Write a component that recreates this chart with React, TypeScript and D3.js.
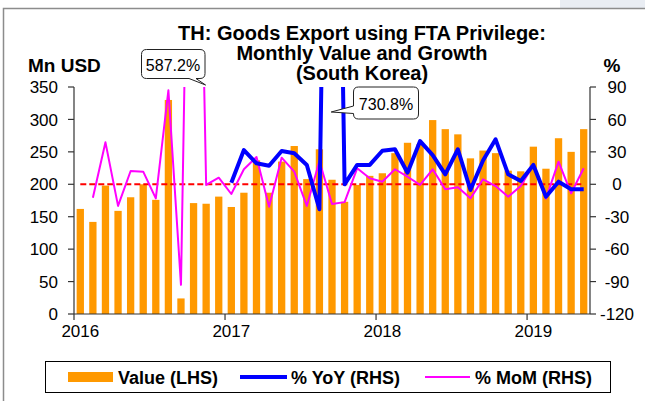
import React from "react";
import * as d3 from "d3";

const months: string[] = [];
for (let y = 2016; y <= 2019; y++) {
  for (let m = 1; m <= 12; m++) {
    if (y === 2019 && m > 5) break;
    months.push(`${y}-${String(m).padStart(2, "0")}`);
  }
}

const valueLHS: number[] = [
  162, 142, 198, 159, 180, 200, 176, 330, 24, 171, 170, 181,
  165, 187, 237, 187, 235, 259, 208, 254, 207, 173, 199, 213,
  217, 248, 264, 262, 299, 285, 277, 240, 252, 248, 221, 220,
  258, 224, 271, 250, 285,
];

const yoyRHS: (number | null)[] = [
  null, null, null, null, null, null, null, null, null, null, null, null,
  1.5, 31.7, 19.4, 17.2, 30.8, 28.7, 17.9, -23.1, 730.8, 0, 17.9, 17.9,
  31, 32.4, 10.7, 40, 27, 9.2, 32.4, -5.3, 22, 41.6, 9.2, 3,
  17.9, -11.5, 2.4, -4.6, -4.6,
];

const momRHS: (number | null)[] = [
  null, -12.4, 38.8, -20, 12.3, 11.7, -13, 87, -93, 587.2, -0.6, 6.1,
  -9, 13.9, 25.2, -20.7, 24.6, 11.7, -20, 21.5, -18.2, -16.5, 14.8, 5.5,
  2.4, 13.9, 7, -0.6, 13.9, -4.6, -2.8, -13, 4.6, -1.6, -11.5, -1.6,
  17.9, -13.3, 20.9, -8.3, 14.8,
];

const leftTicks = [0, 50, 100, 150, 200, 250, 300, 350];
const rightTicks = [-120, -90, -60, -30, 0, 30, 60, 90];
const yearLabels = ["2016", "2017", "2018", "2019"];

const titleLines = [
  "TH: Goods Export using FTA Privilege:",
  "Monthly Value and Growth",
  "(South Korea)",
];

const FONT = "'Liberation Sans', Arial, sans-serif";

export default function App() {
  const W = 645;
  const H = 401;
  const left = 74;
  const right = 590;
  const top = 87;
  const bottom = 314;

  const idx = months.map((_, i) => i);
  const x = d3
    .scaleBand<number>()
    .domain(idx)
    .range([left, right])
    .paddingInner(0.42)
    .paddingOuter(0.21);
  const step = x.step();
  const cx = (i: number) => (x(i) as number) + x.bandwidth() / 2;
  const tickX = (i: number) => (x(i) as number) - (step * 0.42) / 2;

  const yL = d3.scaleLinear().domain([0, 350]).range([bottom, top]);
  const yR = d3.scaleLinear().domain([-120, 90]).range([bottom, top]);

  const lineGen = d3
    .line<number | null>()
    .defined((d) => d !== null)
    .x((_, i) => cx(i))
    .y((d) => yR(d as number));

  const yoyPath = lineGen(yoyRHS) || "";
  const momPath = lineGen(momRHS) || "";

  // callout anchors
  const momPeakX = cx(9);
  const yoyPeakX = cx(20);

  const roundedBoxWithTailBottom = (
    x0: number, y0: number, x1: number, y1: number, r: number,
    t0: number, tipX: number, tipY: number, t1: number
  ) =>
    `M${x0 + r},${y0} H${x1 - r} Q${x1},${y0} ${x1},${y0 + r} V${y1 - r} Q${x1},${y1} ${x1 - r},${y1} ` +
    `H${t1} L${tipX},${tipY} L${t0},${y1} H${x0 + r} Q${x0},${y1} ${x0},${y1 - r} V${y0 + r} Q${x0},${y0} ${x0 + r},${y0} Z`;

  const roundedBoxWithTailLeft = (
    x0: number, y0: number, x1: number, y1: number, r: number,
    t0: number, tipX: number, tipY: number, t1: number
  ) =>
    `M${x0 + r},${y0} H${x1 - r} Q${x1},${y0} ${x1},${y0 + r} V${y1 - r} Q${x1},${y1} ${x1 - r},${y1} ` +
    `H${x0 + r} Q${x0},${y1} ${x0},${y1 - r} V${t1} L${tipX},${tipY} L${x0},${t0} V${y0 + r} Q${x0},${y0} ${x0 + r},${y0} Z`;

  return (
    <svg
      width={W}
      height={H}
      style={{ position: "fixed", left: 0, top: 0, background: "#fff" }}
      fontFamily={FONT}
    >
      <defs>
        <clipPath id="plotClip">
          <rect x={left} y={top} width={right - left} height={bottom - top} />
        </clipPath>
      </defs>
      <rect x={0} y={0} width={W} height={H} fill="#fff" />
      <rect x={560} y={0} width={85} height={8} fill="#e9edf3" />
      <path d={`M3.5,${H} V8.5 H${W}`} fill="none" stroke="#8c8c8c" strokeWidth={1.5} />

      {/* title */}
      {titleLines.map((t, i) => (
        <text
          key={t}
          x={362}
          y={40 + i * 20}
          textAnchor="middle"
          fontWeight="bold"
          fontSize={20}
          fill="#000"
        >
          {t}
        </text>
      ))}
      <text x={28} y={72} fontWeight="bold" fontSize={19} fill="#000">
        Mn USD
      </text>
      <text x={612} y={72} fontWeight="bold" fontSize={19} textAnchor="middle" fill="#000">
        %
      </text>

      {/* bars */}
      {valueLHS.map((v, i) => (
        <rect
          key={months[i]}
          x={x(i)}
          y={yL(v)}
          width={x.bandwidth()}
          height={yL(0) - yL(v)}
          fill="#ff9900"
        />
      ))}

      {/* zero line */}
      <line
        x1={cx(0)}
        x2={cx(valueLHS.length - 1)}
        y1={yR(0)}
        y2={yR(0)}
        stroke="#ff0000"
        strokeWidth={2}
        strokeDasharray="6,3"
      />

      <g clipPath="url(#plotClip)">
        <path d={momPath} fill="none" stroke="#ff00ff" strokeWidth={2} strokeLinejoin="round" />
        <path d={yoyPath} fill="none" stroke="#0000ff" strokeWidth={4} strokeLinejoin="round" />
      </g>

      {/* axes */}
      <g stroke="#333" strokeWidth={1.2}>
        <line x1={left} x2={left} y1={top} y2={bottom} />
        <line x1={right} x2={right} y1={top} y2={bottom} />
        <line x1={left} x2={right} y1={bottom} y2={bottom} />
        {leftTicks.map((t) => (
          <line key={"lt" + t} x1={left - 6} x2={left} y1={yL(t)} y2={yL(t)} />
        ))}
        {rightTicks.map((t) => (
          <line key={"rt" + t} x1={right} x2={right + 6} y1={yR(t)} y2={yR(t)} />
        ))}
        {yearLabels.map((_, k) => (
          <line key={"xt" + k} x1={tickX(k * 12)} x2={tickX(k * 12)} y1={bottom} y2={bottom + 6} />
        ))}
      </g>
      {leftTicks.map((t) => (
        <text key={"ll" + t} x={58} y={yL(t)} dy="0.36em" textAnchor="end" fontSize={17} fill="#000">
          {t}
        </text>
      ))}
      {rightTicks.map((t) => (
        <text key={"rl" + t} x={617} y={yR(t)} dy="0.36em" textAnchor="middle" fontSize={17} fill="#000">
          {t}
        </text>
      ))}
      {yearLabels.map((lab, k) => (
        <text key={lab} x={cx(k * 12)} y={337} textAnchor="middle" fontSize={17} fill="#000">
          {lab}
        </text>
      ))}

      {/* callouts */}
      <path
        d={roundedBoxWithTailBottom(141.5, 49.5, 205, 78.5, 5, 189, momPeakX + 12, 85, 196)}
        fill="#fff"
        stroke="#222"
        strokeWidth={1}
      />
      <text x={173} y={71} textAnchor="middle" fontSize={16} fill="#000">
        587.2%
      </text>
      <path
        d={roundedBoxWithTailLeft(353.5, 87, 418.5, 119, 5, 106, yoyPeakX - 0.5 + 12 - 12 + 0 + (331.7 - yoyPeakX), 112, 113.5)}
        fill="#fff"
        stroke="#222"
        strokeWidth={1}
      />
      <text x={386} y={109.5} textAnchor="middle" fontSize={16} fill="#000">
        730.8%
      </text>

      {/* legend */}
      <rect x={45.5} y={361.5} width={565} height={31} fill="#fff" stroke="#000" strokeWidth={1} />
      <rect x={68} y={372} width={45} height={10} fill="#ff9900" />
      <text x={118} y={384} fontWeight="bold" fontSize={18} fill="#000">
        Value (LHS)
      </text>
      <line x1={240} x2={287} y1={377} y2={377} stroke="#0000ff" strokeWidth={4} />
      <text x={291} y={384} fontWeight="bold" fontSize={18} fill="#000">
        % YoY (RHS)
      </text>
      <line x1={425} x2={470} y1={377} y2={377} stroke="#ff00ff" strokeWidth={2} />
      <text x={475} y={384} fontWeight="bold" fontSize={18} fill="#000">
        % MoM (RHS)
      </text>
    </svg>
  );
}
